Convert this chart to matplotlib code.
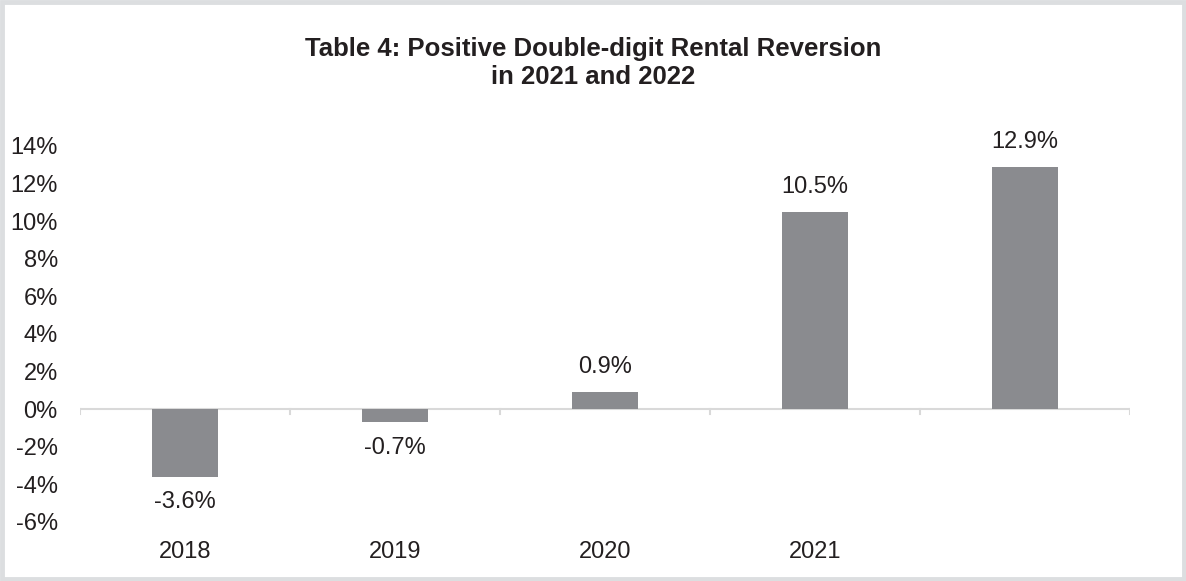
import matplotlib.pyplot as plt
from matplotlib.patches import Rectangle
from matplotlib.ticker import FixedLocator, PercentFormatter

plt.rcParams['font.family'] = ['Liberation Sans', 'DejaVu Sans']
plt.rcParams['axes.unicode_minus'] = False

# data
categories = ['2018', '2019', '2020', '2021', '']
values = [-3.6, -0.7, 0.9, 10.5, 12.9]
y_ticks = [-6, -4, -2, 0, 2, 4, 6, 8, 10, 12, 14]
title = 'Table 4: Positive Double-digit Rental Reversion\nin 2021 and 2022'

bar_color = '#8a8b8f'
text_color = '#231f20'
line_color = '#d9d9d9'
fs = 17

fig = plt.figure(figsize=(11.86, 5.81), dpi=100)
ax = fig.add_axes([80 / 1186, 1 - 522 / 581, 1050 / 1186, 376 / 581])

x = range(len(categories))
bars = ax.bar(x, values, width=0.315, color=bar_color, zorder=2)

ax.set_xlim(-0.5, len(categories) - 0.5)
ax.set_ylim(-6, 14)
ax.yaxis.set_major_locator(FixedLocator(y_ticks))
ax.yaxis.set_major_formatter(PercentFormatter(decimals=0))

for s in ['top', 'right', 'left', 'bottom']:
    ax.spines[s].set_visible(False)
ax.axhline(0, color=line_color, lw=1.5, zorder=1)
# category separators hanging from the zero line
for b in [i - 0.5 for i in range(len(categories) + 1)]:
    ax.plot([b, b], [0, -0.25], color=line_color, lw=1.5, zorder=1)

ax.set_xticks(list(x))
ax.set_xticklabels(categories)
ax.tick_params(axis='x', length=0, pad=14, labelsize=fs, labelcolor=text_color)
ax.tick_params(axis='y', length=0, pad=16, labelsize=fs, labelcolor=text_color)

for rect, v in zip(bars, values):
    cx = rect.get_x() + rect.get_width() / 2
    if v >= 0:
        ax.annotate('{:.1f}%'.format(v), (cx, v), xytext=(0, 10), textcoords='offset points',
                    ha='center', va='bottom', fontsize=fs, color=text_color)
    else:
        ax.annotate('{:.1f}%'.format(v), (cx, v), xytext=(0, -10.5), textcoords='offset points',
                    ha='center', va='top', fontsize=fs, color=text_color)

fig.text(0.5, 1 - 63 / 581, title, ha='center', va='center', fontsize=18.5,
         fontweight='bold', color=text_color, linespacing=1.25)

# light frame round the whole picture
fig.patches.append(Rectangle((0.002, 0.004), 0.996, 0.992, transform=fig.transFigure,
                             fill=False, edgecolor='#dcdee0', lw=3.5))

fig.savefig('out.png', dpi=100)
